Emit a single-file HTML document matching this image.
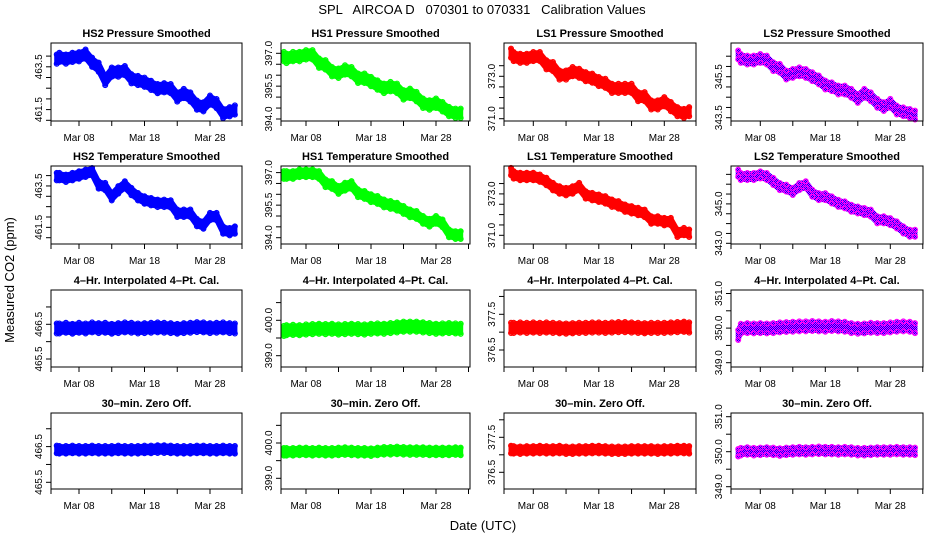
<!DOCTYPE html>
<html><head><meta charset="utf-8">
<style>
body{margin:0;background:#fff;}
svg{display:block;font-family:"Liberation Sans",sans-serif;}
.t{font-size:10px;fill:#000}
.pt{font-size:11px;font-weight:bold;fill:#000}
</style></head>
<body>
<svg id="chart" width="936" height="540" viewBox="0 0 936 540">
<defs>
<pattern id="chk" width="2" height="2" patternUnits="userSpaceOnUse">
<rect width="2" height="2" fill="#0000ff"/><rect width="1" height="1" fill="#ff00ff"/><rect x="1" y="1" width="1" height="1" fill="#ff00ff"/>
</pattern>
</defs>
<text x="482" y="14" text-anchor="middle" font-size="13" xml:space="preserve">SPL   AIRCOA D   070301 to 070331   Calibration Values</text>
<text transform="translate(14,280) rotate(-90)" text-anchor="middle" font-size="13">Measured CO2 (ppm)</text>
<text x="483" y="530" text-anchor="middle" font-size="13">Date (UTC)</text>
<g id="panels"></g>
</svg>
<script>
const days = [4.6,5,6,7,8,9,10,11,12,13,14,15,16,17,18,19,20,21,22,23,24,25,26,27,28,29,30,31,31.8];
const xTickDays = [8,13,18,23,28,33];
const xTickLabels = ["Mar 08","","Mar 18","","Mar 28",""];
const titles = [
 "HS2 Pressure Smoothed","HS1 Pressure Smoothed","LS1 Pressure Smoothed","LS2 Pressure Smoothed",
 "HS2 Temperature Smoothed","HS1 Temperature Smoothed","LS1 Temperature Smoothed","LS2 Temperature Smoothed",
 "4\u2013Hr. Interpolated 4\u2013Pt. Cal.","4\u2013Hr. Interpolated 4\u2013Pt. Cal.","4\u2013Hr. Interpolated 4\u2013Pt. Cal.","4\u2013Hr. Interpolated 4\u2013Pt. Cal.",
 "30\u2013min. Zero Off.","30\u2013min. Zero Off.","30\u2013min. Zero Off.","30\u2013min. Zero Off."];
const hs2Pressure = [463.86,463.94,463.86,463.94,463.97,464.09,463.71,463.48,462.86,463.25,463.25,463.32,462.94,462.86,462.78,462.63,462.48,462.52,462.48,462.09,462.25,462.09,461.71,461.63,461.94,461.78,461.32,461.4,461.48];
const hs1Pressure = [396.85,396.77,396.85,396.85,396.93,396.93,396.55,396.47,396.16,396.09,396.24,396.16,395.86,395.86,395.71,395.55,395.4,395.48,395.4,395.1,395.17,395.02,394.72,394.64,394.72,394.56,394.34,394.26,394.26];
const ls1Pressure = [374.09,373.93,373.85,373.85,373.93,373.93,373.54,373.46,373.06,373.06,373.22,373.14,372.98,372.91,372.75,372.67,372.43,372.43,372.43,372.43,372.04,372.04,371.65,371.65,371.8,371.57,371.33,371.25,371.33];
const ls2Pressure = [346.56,346.39,346.31,346.31,346.39,346.31,345.99,345.91,345.58,345.66,345.74,345.66,345.5,345.34,345.09,345.01,344.85,344.85,344.69,344.44,344.69,344.52,344.2,344.04,344.2,343.87,343.79,343.71,343.63];
const hs2Temp = [463.95,463.95,463.87,463.95,464.03,464.11,464.19,463.55,463.47,462.98,463.31,463.55,463.23,462.98,462.82,462.74,462.66,462.66,462.63,462.18,462.18,462.18,461.73,461.61,462.02,462.02,461.37,461.29,461.37];
const hs1Temp = [396.89,396.89,396.89,396.97,396.97,396.97,396.89,396.51,396.43,396.2,396.35,396.43,396.05,395.97,395.82,395.74,395.58,395.51,395.43,395.28,395.12,395.05,394.82,394.69,394.82,394.66,394.2,394.12,394.12];
const ls1Temp = [374.08,373.92,373.84,373.84,373.84,373.76,373.6,373.35,373.19,373.11,373.19,373.35,372.95,372.87,372.79,372.71,372.55,372.47,372.31,372.23,372.15,372.06,371.74,371.74,371.66,371.66,371.1,371.18,371.1];
const ls2Temp = [346.56,346.39,346.39,346.39,346.47,346.39,346.14,345.88,345.8,345.63,345.88,345.97,345.54,345.37,345.37,345.2,345.03,344.95,344.78,344.69,344.61,344.53,344.19,344.19,344.1,343.93,343.68,343.51,343.51];
const hs2Interp = [466.38,466.38,466.4,466.37,466.4,466.38,466.41,466.39,466.4,466.37,466.39,466.41,466.4,466.38,466.39,466.4,466.41,466.4,466.39,466.37,466.39,466.4,466.42,466.41,466.39,466.4,466.41,466.39,466.38];
const hs1Interp = [399.7,399.72,399.73,399.72,399.74,399.75,399.76,399.75,399.76,399.74,399.75,399.76,399.75,399.74,399.76,399.77,399.76,399.78,399.8,399.82,399.82,399.82,399.8,399.78,399.76,399.77,399.78,399.77,399.76];
const ls1Interp = [377.12,377.12,377.13,377.12,377.13,377.12,377.13,377.12,377.11,377.1,377.11,377.12,377.12,377.13,377.13,377.12,377.13,377.14,377.14,377.13,377.12,377.11,377.12,377.12,377.12,377.13,377.14,377.15,377.13];
const ls2Interp = [349.8,349.98,350.0,349.99,350.0,349.99,350.0,350.02,350.03,350.04,350.05,350.05,350.06,350.05,350.04,350.06,350.05,350.04,350.0,349.98,349.99,350.01,350.0,350.0,350.02,350.04,350.05,350.04,350.0];
const hs2Zero = [466.42,466.41,466.41,466.42,466.41,466.41,466.42,466.41,466.41,466.41,466.42,466.41,466.41,466.41,466.42,466.42,466.43,466.43,466.42,466.41,466.41,466.41,466.42,466.42,466.41,466.41,466.42,466.41,466.41];
const hs1Zero = [399.75,399.75,399.75,399.76,399.76,399.75,399.76,399.75,399.75,399.76,399.77,399.76,399.75,399.75,399.74,399.76,399.78,399.78,399.79,399.78,399.77,399.77,399.77,399.76,399.76,399.76,399.76,399.77,399.76];
const ls1Zero = [377.15,377.14,377.13,377.14,377.14,377.15,377.14,377.14,377.15,377.13,377.13,377.14,377.14,377.15,377.15,377.14,377.13,377.13,377.13,377.14,377.14,377.14,377.14,377.13,377.14,377.14,377.15,377.15,377.14];
const ls2Zero = [349.97,350.0,350.02,350.0,350.01,350.02,350.01,349.99,350.01,350.02,350.03,350.02,350.03,350.04,350.03,350.03,350.02,350.03,350.02,350.0,350.0,350.01,350.02,350.02,350.02,350.03,350.02,350.02,350.01];
const seriesList = [hs2Pressure,hs1Pressure,ls1Pressure,ls2Pressure,hs2Temp,hs1Temp,ls1Temp,ls2Temp,hs2Interp,hs1Interp,ls1Interp,ls2Interp,hs2Zero,hs1Zero,ls1Zero,ls2Zero];
const bandSpread = [0.18,0.18,0.18,0.18,0.15,0.15,0.15,0.15,0.12,0.12,0.12,0.12,0.09,0.09,0.09,0.09];
const yTicks = [
 [461,461.5,462,462.5,463,463.5,464],[394,394.5,395,395.5,396,396.5,397],[371,371.5,372,372.5,373,373.5],[343.5,344,344.5,345,345.5,346,346.5],
 [461,461.5,462,462.5,463,463.5,464],[394,394.5,395,395.5,396,396.5,397],[371,371.5,372,372.5,373,373.5],[343,343.5,344,344.5,345,345.5,346,346.5],
 [465.5,466,466.5,467],[399,399.5,400,400.5],[376.5,377,377.5,378],[349,349.5,350,350.5,351],
 [465.5,466,466.5,467],[399,399.5,400,400.5],[376.5,377,377.5,378],[349,349.5,350,350.5,351]];
const yTickLabels = [
 ["461.5","463.5"],["394.0","395.5","397.0"],["371.0","373.0"],["343.5","345.5"],
 ["461.5","463.5"],["394.0","395.5","397.0"],["371.0","373.0"],["343.0","345.0"],
 ["465.5","466.5"],["399.0","400.0"],["376.5","377.5"],["349.0","350.0","351.0"],
 ["465.5","466.5"],["399.0","400.0"],["376.5","377.5"],["349.0","350.0","351.0"]];
const colL=[51,281,504,731], colR=[242,470,696,923], colM8=[79,306,533.3,760.3], colPD=[6.55,6.5,6.55,6.5];
const rowT=[43,166,290,413], rowB=[121,244,367,489];
const yRef=[[461,120.3,21.4],[394,119,21.9],[371,118.7,21.2],[343.5,117.7,20.5],
 [461,237.7,20.7],[394,237.7,21.7],[371,235.3,20.7],[343,243.3,19.7],
 [465.5,359,34.7],[399,355.7,35.4],[376.5,350,35.7],[349,362.7,34.6],
 [465.5,482.3,35.7],[399,478.3,35.3],[376.5,472.3,35.0],[349,486.7,35.0]];
const colors=["#0000ff","#00ff00","#ff0000","url(#chk)"];
const strokes=["#0000ff","#00ff00","#ff0000","url(#chk)"];
const ptColors=["#0000ff","#00ff00","#ff0000","#ff00ff"];
const NS="http://www.w3.org/2000/svg";
const root=document.getElementById('panels');
function mk(tag,attrs,parent){const e=document.createElementNS(NS,tag);for(const k in attrs)e.setAttribute(k,attrs[k]);parent.appendChild(e);return e;}
for(let p=0;p<16;p++){
 const c=p%4,r=Math.floor(p/4);
 const L=colL[c],R=colR[c],T=rowT[r],B=rowB[r];
 const xs=d=>colM8[c]+(d-8)*colPD[c];
 const ys=v=>yRef[p][1]-(v-yRef[p][0])*yRef[p][2];
 const g=mk('g',{},root);
 
 
 const tt=mk('text',{x:(L+R)/2,y:T-6,'text-anchor':'middle',class:'pt'},g);
 tt.textContent=titles[p];
 
 
 const vals=seriesList[p],s=bandSpread[p];
 const up=days.map((d,i)=>xs(d).toFixed(1)+','+ys(vals[i]+s).toFixed(1));
 const lo=days.map((d,i)=>xs(d).toFixed(1)+','+ys(vals[i]-s).toFixed(1)).reverse();
 const band=mk('polygon',{points:up.concat(lo).join(' '),fill:colors[c],stroke:strokes[c],'stroke-width':5,'stroke-linejoin':'round'},g);
 
 
 days.forEach((d,i)=>{
  [s,-s].forEach(o=>{
   const ci=mk('circle',{cx:xs(d),cy:ys(vals[i]+o*1.2),r:2.4,fill:'none',stroke:ptColors[c],'stroke-width':1.2},g);
   
   
  });
 });
 const box=mk('rect',{x:L,y:T,width:R-L,height:B-T,fill:'none',stroke:'#000','stroke-width':1},g);
 
 
 mk('line',{x1:L,y1:B,x2:L,y2:B+5,stroke:'#000'},g);
 xTickDays.forEach((d,i)=>{
  const x=Math.min(xs(d),R);
  mk('line',{x1:x,y1:B,x2:x,y2:B+5,stroke:'#000'},g);
  if(xTickLabels[i]){const t=mk('text',{x:x,y:B+20,'text-anchor':'middle',class:'t'},g);t.textContent=xTickLabels[i];
   
   }
 });
 yTicks[p].forEach(v=>{const y=ys(v);mk('line',{x1:L-5,y1:y,x2:L,y2:y,stroke:'#000'},g);});
 yTickLabels[p].forEach(lbl=>{const y=ys(parseFloat(lbl));
  const t=mk('text',{transform:`translate(${L-9},${y}) rotate(-90)`,'text-anchor':'middle',class:'t'},g);
  t.textContent=lbl;
  
  
 });
}
</script>
</body></html>
